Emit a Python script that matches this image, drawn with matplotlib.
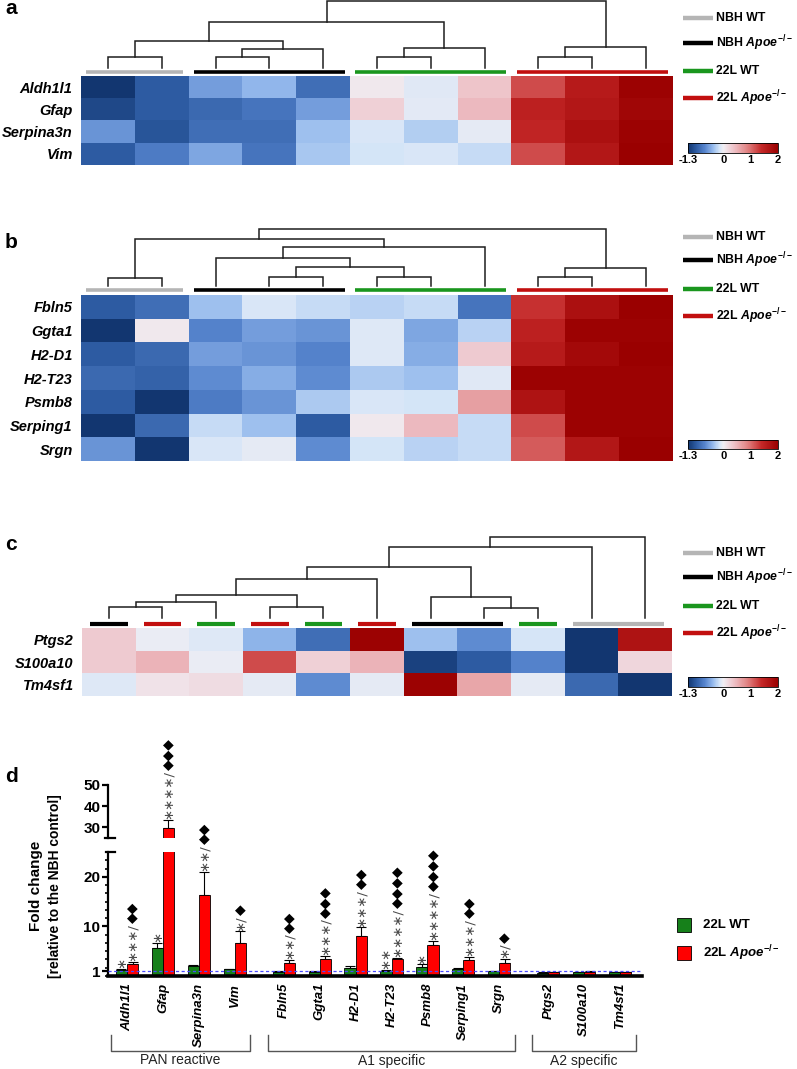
import numpy as np
import matplotlib
matplotlib.use('Agg')
import matplotlib.pyplot as plt
from matplotlib.colors import LinearSegmentedColormap
from matplotlib.lines import Line2D
from matplotlib.patches import Rectangle
from matplotlib.ticker import MultipleLocator

plt.rcParams['font.family'] = ['Liberation Sans', 'DejaVu Sans']
plt.rcParams['mathtext.fontset'] = 'custom'
plt.rcParams['mathtext.rm'] = 'Liberation Sans:bold'
plt.rcParams['mathtext.it'] = 'Liberation Sans:italic:bold'
plt.rcParams['mathtext.bf'] = 'Liberation Sans:bold'

W, H = 797, 1069

# ---------------- data ----------------
group_names = ['NBH WT', 'NBH Apoe', '22L WT', '22L Apoe']
group_labels = ['NBH WT', r'NBH $\mathit{Apoe}^{-/-}$', '22L WT', r'22L $\mathit{Apoe}^{-/-}$']

# panel a
a_genes = ['Aldh1l1', 'Gfap', 'Serpina3n', 'Vim']
a_groups = ['NBH WT'] * 2 + ['NBH Apoe'] * 3 + ['22L WT'] * 3 + ['22L Apoe'] * 3
a_vals = [
    [-1.3, -1.0, -0.55, -0.4, -0.85, 0.05, -0.08, 0.35, 1.2, 1.6, 1.95],
    [-1.15, -1.0, -0.9, -0.8, -0.55, 0.25, -0.07, 0.45, 1.5, 1.65, 1.9],
    [-0.6, -1.05, -0.85, -0.85, -0.35, -0.12, -0.28, -0.05, 1.45, 1.75, 1.95],
    [-1.0, -0.75, -0.5, -0.8, -0.32, -0.15, -0.12, -0.2, 1.2, 1.65, 2.0],
]
# merges: (left id, right id, height)
a_links = [(0, 1, 11), (2, 3, 11), (12, 4, 19), (11, 13, 27), (5, 6, 11),
           (15, 7, 20), (14, 16, 46), (8, 9, 11), (18, 10, 21), (17, 19, 67)]

# panel b
b_genes = ['Fbln5', 'Ggta1', 'H2-D1', 'H2-T23', 'Psmb8', 'Serping1', 'Srgn']
b_groups = a_groups
b_vals = [
    [-1.0, -0.85, -0.35, -0.12, -0.2, -0.25, -0.2, -0.8, 1.35, 1.75, 2.05],
    [-1.3, 0.05, -0.7, -0.55, -0.6, -0.1, -0.5, -0.25, 1.5, 1.95, 1.95],
    [-1.0, -0.9, -0.55, -0.6, -0.7, -0.1, -0.45, 0.3, 1.6, 1.85, 2.05],
    [-0.9, -0.95, -0.65, -0.45, -0.65, -0.3, -0.35, -0.08, 1.95, 1.95, 1.95],
    [-1.0, -1.3, -0.75, -0.6, -0.3, -0.12, -0.15, 0.65, 1.7, 1.95, 1.95],
    [-1.3, -0.9, -0.2, -0.35, -1.0, 0.05, 0.45, -0.2, 1.2, 1.95, 1.95],
    [-0.6, -1.3, -0.12, -0.05, -0.65, -0.15, -0.25, -0.2, 1.1, 1.65, 2.1],
]
b_links = [(0, 1, 8), (3, 4, 9), (5, 6, 9), (12, 13, 19), (2, 14, 28),
           (15, 7, 39), (11, 16, 47), (8, 9, 9), (18, 10, 18), (17, 19, 57)]

# panel c
c_genes = ['Ptgs2', 'S100a10', 'Tm4sf1']
c_groups = ['NBH Apoe', '22L Apoe', '22L WT', '22L Apoe', '22L WT', '22L Apoe',
            'NBH Apoe', 'NBH Apoe', '22L WT', 'NBH WT', 'NBH WT']
c_vals = [
    [0.3, -0.03, -0.1, -0.42, -0.85, 1.95, -0.35, -0.65, -0.13, -1.3, 1.7],
    [0.3, 0.5, -0.03, 1.2, 0.25, 0.5, -1.2, -1.0, -0.7, -1.3, 0.2],
    [-0.1, 0.1, 0.15, -0.05, -0.65, -0.06, 1.95, 0.6, -0.05, -0.9, -1.3],
]
c_links = [(0, 1, 11), (11, 2, 16), (3, 4, 11), (12, 13, 23), (14, 5, 39),
           (7, 8, 10), (6, 16, 21), (15, 17, 51), (18, 9, 71), (19, 10, 81)]

# panel d
d_genes = ['Aldh1l1', 'Gfap', 'Serpina3n', 'Vim',
           'Fbln5', 'Ggta1', 'H2-D1', 'H2-T23', 'Psmb8', 'Serping1', 'Srgn',
           'Ptgs2', 'S100a10', 'Tm4sf1']
d_sets = [('PAN reactive', 4), ('A1 specific', 7), ('A2 specific', 3)]
wt_fc = [1.3, 5.7, 2.0, 1.35, 0.85, 0.9, 1.6, 1.0, 1.9, 1.4, 0.95, 0.7, 0.85, 0.75]
wt_err = [0.15, 1.0, 0.3, 0.1, 0.08, 0.1, 0.5, 0.2, 0.45, 0.2, 0.05, 0.05, 0.05, 0.05]
ko_fc = [2.4, 29.5, 16.4, 6.7, 2.6, 3.5, 8.0, 3.4, 6.3, 3.2, 2.6, 0.75, 0.9, 0.8]
ko_err = [0.5, 4.2, 4.6, 2.3, 0.6, 0.5, 1.8, 0.2, 0.8, 0.7, 0.8, 0.05, 0.05, 0.05]
wt_sig = [1, 1, 0, 0, 0, 0, 0, 2, 1, 0, 0, 0, 0, 0]
ko_sig = [3, 4, 2, 1, 2, 3, 3, 4, 4, 3, 1, 0, 0, 0]
ko_diam = [2, 3, 2, 1, 2, 3, 2, 4, 4, 2, 1, 0, 0, 0]

# ---------------- style ----------------
group_colors = {'NBH WT': '#b5b5b5', 'NBH Apoe': '#000000',
                '22L WT': '#1a961e', '22L Apoe': '#c20f0f'}
cm_vals = [-1.3, -1.0, -0.7, -0.4, -0.15, 0.0, 0.4, 0.9, 1.4, 2.0]
cm_cols = ['#123670', '#2e5ca3', '#5583cc', '#93b8ec', '#d4e5f8', '#f1eef3',
           '#eec0c6', '#e08080', '#c42828', '#9a0000']
vmin, vmax = -1.3, 2.0
cmap = LinearSegmentedColormap.from_list(
    'bwr_custom', [((v - vmin) / (vmax - vmin), c) for v, c in zip(cm_vals, cm_cols)])

STAR = '\u2217'
DIAM = '\u25c6'

fig = plt.figure(figsize=(W / 100, H / 100), dpi=100)


def box(x0, y0, x1, y1):
    return [x0 / W, 1 - y1 / H, (x1 - x0) / W, (y1 - y0) / H]


def runs(groups):
    out, start = [], 0
    for i in range(1, len(groups) + 1):
        if i == len(groups) or groups[i] != groups[start]:
            out.append((start, i, groups[start]))
            start = i
    return out


def heat_panel(letter, letter_y, genes, vals, groups, links, hm, dn, dn_ylim,
               bar_h, bar_lw, inset, leg_y, cb):
    ax = fig.add_axes(box(*hm))
    im = ax.imshow(np.array(vals), cmap=cmap, vmin=vmin, vmax=vmax,
                   aspect='auto', interpolation='nearest')
    ax.set_xticks([])
    ax.set_yticks(range(len(genes)))
    ax.set_yticklabels(genes, fontsize=10.5, fontweight='bold', fontstyle='italic')
    ax.tick_params(axis='y', length=0, pad=6)
    for s in ax.spines.values():
        s.set_visible(False)

    n = len(groups)
    dax = fig.add_axes(box(*dn))
    dax.set_xlim(0, n)
    dax.set_ylim(*dn_ylim)
    dax.axis('off')
    xs = {i: i + 0.5 for i in range(n)}
    hs = {i: 0.0 for i in range(n)}
    for k, (l, r, h) in enumerate(links):
        dax.plot([xs[l], xs[l], xs[r], xs[r]], [hs[l], h, h, hs[r]],
                 color='#1e1e1e', lw=1.1, clip_on=False, solid_joinstyle='miter')
        xs[n + k] = (xs[l] + xs[r]) / 2
        hs[n + k] = h
    for s, e, g in runs(groups):
        dax.plot([s + inset, e - inset], [bar_h, bar_h], color=group_colors[g],
                 lw=bar_lw, solid_capstyle='butt', clip_on=False)

    for y, g, lab in zip(leg_y, group_names, group_labels):
        fig.add_artist(Line2D([683 / W, 713 / W], [1 - y / H, 1 - y / H],
                              color=group_colors[g], lw=3.2, solid_capstyle='butt'))
        fig.text(716 / W, 1 - y / H, lab, fontsize=8.8, fontweight='bold', va='center')

    cax = fig.add_axes(box(*cb))
    cbar = fig.colorbar(im, cax=cax, orientation='horizontal', ticks=[-1.3, 0, 1, 2])
    cbar.set_ticklabels(['-1.3', '0', '1', '2'])
    cbar.ax.tick_params(length=0, labelsize=8, pad=1.5)
    for t in cbar.ax.get_xticklabels():
        t.set_fontweight('bold')
    cbar.outline.set_linewidth(0.6)

    fig.text(5 / W, 1 - letter_y / H, letter, fontsize=15, fontweight='bold', va='center')


heat_panel('a', 9, a_genes, a_vals, a_groups, a_links,
           hm=(81, 76, 673, 165), dn=(81, 1, 673, 75), dn_ylim=(-7, 67),
           bar_h=-4, bar_lw=2.6, inset=0.1, leg_y=[18, 43, 71, 98], cb=(688, 143, 778, 153))
heat_panel('b', 242, b_genes, b_vals, b_groups, b_links,
           hm=(81, 295, 673, 461), dn=(81, 229, 673, 293), dn_ylim=(-7, 57),
           bar_h=-4, bar_lw=2.6, inset=0.1, leg_y=[237, 260, 289, 316], cb=(688, 440, 778, 449))
heat_panel('c', 545, c_genes, c_vals, c_groups, c_links,
           hm=(82, 628, 672, 696), dn=(82, 537, 672, 627), dn_ylim=(-9, 81),
           bar_h=-6, bar_lw=3.0, inset=0.15, leg_y=[553, 577, 606, 633], cb=(688, 677, 778, 687))

# ---------------- panel d ----------------
gap = 0.37
pos = []
x = 0.0
for name, cnt in d_sets:
    for j in range(cnt):
        pos.append(x)
        x += 1
    x += gap
pos = np.array(pos)
bw = 0.31
green = '#16801a'
red = '#ff0000'

ax_lo = fig.add_axes(box(108, 852, 642, 976))
ax_up = fig.add_axes(box(108, 785, 642, 838))
for ax in (ax_lo, ax_up):
    ax.patch.set_visible(False)
    ax.bar(pos - bw / 2, wt_fc, bw, color=green, edgecolor='black', lw=0.6, zorder=2)
    ax.bar(pos + bw / 2, ko_fc, bw, color=red, edgecolor='black', lw=0.6, zorder=2)
    ax.errorbar(pos - bw / 2, wt_fc, yerr=[np.zeros(len(wt_fc)), wt_err], fmt='none',
                ecolor='black', elinewidth=0.8, capsize=3.5, capthick=0.8, zorder=1)
    ax.errorbar(pos + bw / 2, ko_fc, yerr=[np.zeros(len(ko_fc)), ko_err], fmt='none',
                ecolor='black', elinewidth=0.8, capsize=3.5, capthick=0.8, zorder=1)
    ax.set_xlim(pos[0] - 0.53, pos[-1] + 0.61)
    for s in ('top', 'right'):
        ax.spines[s].set_visible(False)
    ax.spines['left'].set_linewidth(1.6)
    ax.tick_params(axis='y', which='major', direction='out', length=4, width=1.6,
                   labelsize=11, pad=1.5)
    ax.tick_params(axis='y', which='minor', direction='out', length=2.5, width=1.2)

ax_lo.set_ylim(0, 25)
ax_lo.set_yticks([1, 10, 20])
ax_lo.set_yticklabels(['1', '10', '20'], fontweight='bold')
ax_lo.yaxis.set_minor_locator(MultipleLocator(10 / 6))
ax_lo.spines['bottom'].set_linewidth(2.6)
ax_lo.axhline(1, color='#4a4aff', lw=0.9, ls=(0, (2.5, 2)), zorder=3)
ax_lo.set_xticks(pos)
ax_lo.set_xticklabels(d_genes, rotation=90, fontsize=9.5, fontweight='bold',
                      fontstyle='italic')
ax_lo.tick_params(axis='x', length=0, pad=5)

ax_up.set_ylim(25, 50)
ax_up.set_yticks([30, 40, 50])
ax_up.set_yticklabels(['30', '40', '50'], fontweight='bold')
ax_up.spines['bottom'].set_visible(False)
ax_up.set_xticks([])

# break caps
ax_up.plot([-0.006, 0.013], [0, 0], transform=ax_up.transAxes, color='black', lw=1.6,
           clip_on=False)
ax_lo.plot([-0.004, 0.013], [1, 1], transform=ax_lo.transAxes, color='black', lw=1.6,
           clip_on=False)

# significance marks
sig_kw = dict(rotation=90, ha='center', va='bottom', fontsize=9.5, color='#4a4a4a',
              family=['DejaVu Sans'], textcoords='offset points', zorder=5)
for i in range(len(d_genes)):
    if wt_sig[i]:
        ax_lo.annotate(STAR * wt_sig[i], (pos[i] - bw / 2, wt_fc[i] + wt_err[i]),
                       xytext=(0, 0.5), **sig_kw)
    if ko_sig[i]:
        top = ko_fc[i] + ko_err[i]
        ax = ax_up if top > 25 else ax_lo
        st = ax.annotate(STAR * ko_sig[i] + '/', (pos[i] + bw / 2, top),
                         xytext=(0, 0.5), **sig_kw)
        if ko_diam[i]:
            ax.annotate(DIAM * ko_diam[i], xy=(0.5, 1.0), xycoords=st,
                        xytext=(0, 0), textcoords='offset points', rotation=90,
                        ha='center', va='bottom', fontsize=10, color='black',
                        family=['DejaVu Sans'], zorder=5)

# group brackets
tr = ax_lo.get_xaxis_transform()
start = 0
for name, cnt in d_sets:
    x0 = pos[start] - 0.45
    x1 = pos[start + cnt - 1] + 0.44
    ax_lo.plot([x0, x0, x1, x1], [-0.476, -0.605, -0.605, -0.476], transform=tr,
               color='#555555', lw=1.0, clip_on=False)
    ax_lo.text((x0 + x1) / 2, -0.625, name, transform=tr, ha='center', va='top',
               fontsize=10, color='#222222')
    start += cnt

fig.text(36 / W, 1 - 886 / H, 'Fold change', rotation=90, ha='center', va='center',
         fontsize=11, fontweight='bold')
fig.text(55 / W, 1 - 886 / H, '[relative to the NBH control]', rotation=90,
         ha='center', va='center', fontsize=10, fontweight='bold')

# legend d
for y, col, lab in [(925, green, '22L WT'), (953, red, r'22L $\mathit{Apoe}^{-/-}$')]:
    fig.add_artist(Rectangle((677 / W, 1 - (y + 7) / H), 14 / W, 14 / H,
                             facecolor=col, edgecolor='black', lw=0.6,
                             transform=fig.transFigure))
    fig.text(703 / W, 1 - y / H, lab, fontsize=9.5, fontweight='bold', va='center')

fig.text(5 / W, 1 - 776 / H, 'd', fontsize=15, fontweight='bold', va='center')

fig.savefig('out.png', dpi=100)
